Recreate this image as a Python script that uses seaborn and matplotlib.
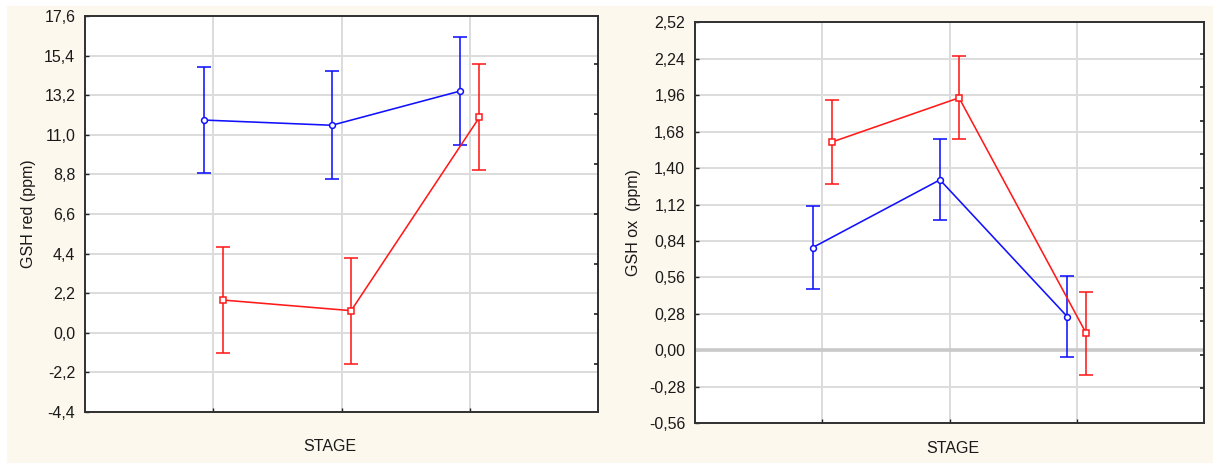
import numpy as np
import matplotlib
matplotlib.use("Agg")
import matplotlib.pyplot as plt
from matplotlib.patches import Rectangle
from matplotlib.ticker import FuncFormatter
import seaborn as sns

# Stages (x positions 1..3) and group means with error half-widths
stages = [1, 2, 3]

red_blue_mean = [11.82, 11.53, 13.43]
red_blue_err = [2.95, 3.0, 3.0]
red_red_mean = [1.82, 1.23, 11.97]
red_red_err = [2.95, 2.95, 2.95]

ox_blue_mean = [0.79, 1.31, 0.26]
ox_blue_err = [0.32, 0.31, 0.31]
ox_red_mean = [1.60, 1.94, 0.13]
ox_red_err = [0.32, 0.32, 0.32]

red_ticks = [-4.4, -2.2, 0.0, 2.2, 4.4, 6.6, 8.8, 11.0, 13.2, 15.4, 17.6]
ox_ticks = [-0.56, -0.28, 0.00, 0.28, 0.56, 0.84, 1.12, 1.40, 1.68, 1.96, 2.24, 2.52]

sns.set_style("white")
plt.rcParams["font.family"] = ["Liberation Sans", "DejaVu Sans"]
FS = 11.5

W, H = 1213, 463
fig = plt.figure(figsize=(W / 100, H / 100), dpi=100)
fig.patch.set_facecolor("white")
fig.patches.append(Rectangle((7 / W, 0), 1, 1 - 6 / H, transform=fig.transFigure,
                             facecolor="#fdf8ee", edgecolor="none", zorder=-10))

BLUE = "#1010ff"
RED = "#ff1a1a"
TXT = "#1a1a1a"
DODGE = 0.075


def panel(rect, ticks, fmt, ylabel, blue_m, blue_e, red_m, red_e, n_right, r0, rstep,
          zero_line=False, xlabel_xy=(0.5, -0.05)):
    ax = fig.add_axes(rect)
    ax.set_facecolor("white")
    xb = np.array(stages) - DODGE
    xr = np.array(stages) + DODGE
    for x, m, e, c, mk, ms in ((xb, blue_m, blue_e, BLUE, "o", 4.2),
                               (xr, red_m, red_e, RED, "s", 4.6)):
        sns.lineplot(x=x, y=m, ax=ax, color=c, lw=1.15, marker=mk, markersize=ms,
                     markerfacecolor="white", markeredgecolor=c, markeredgewidth=1.1,
                     zorder=4, legend=False)
        ax.errorbar(x, m, yerr=e, fmt="none", ecolor=c, elinewidth=1.15,
                    capsize=4.7, capthick=1.15, zorder=3)
    ax.set_xlim(0, 4)
    ax.set_ylim(ticks[0], ticks[-1])
    ax.set_yticks(ticks)
    ax.yaxis.set_major_formatter(FuncFormatter(fmt))
    ax.set_xticks(stages)
    ax.set_xticklabels([])
    ax.grid(True, color="#dcdcdc", lw=1.4, zorder=0)
    ax.set_axisbelow(True)
    if zero_line:
        ax.axhline(0, color="#c9c9c9", lw=2.6, zorder=1)
    for s in ax.spines.values():
        s.set_color("#303030")
        s.set_linewidth(1.4)
    ax.tick_params(axis="both", direction="in", length=3, width=1, color="#202020",
                   labelsize=FS, labelcolor=TXT, pad=7)
    ax.tick_params(axis="y", left=True)
    ax.tick_params(axis="x", bottom=True)
    ax.set_ylabel(ylabel, fontsize=FS, color=TXT, labelpad=6)
    ax.set_xlabel("STAGE", fontsize=FS, color=TXT)
    ax.xaxis.set_label_coords(*xlabel_xy)

    tw = ax.twinx()
    tw.set_ylim(0, 1)
    tw.set_yticks(r0 + rstep * np.arange(n_right))
    tw.set_yticklabels([])
    tw.tick_params(axis="y", direction="in", length=3, width=1.2, color="#202020")
    for s in tw.spines.values():
        s.set_visible(False)
    return ax


panel([85 / W, (H - 412) / H, 513 / W, 396 / H], red_ticks,
      lambda v, _: f"{v:.1f}".replace(".", ","), "GSH red (ppm)",
      red_blue_mean, red_blue_err, red_red_mean, red_red_err,
      7, 0.121, 0.1263, xlabel_xy=(0.478, -0.068))

panel([695 / W, (H - 423.3) / H, 509 / W, 401 / H], ox_ticks,
      lambda v, _: f"{v:.2f}".replace(".", ","), "GSH ox  (ppm)",
      ox_blue_mean, ox_blue_err, ox_red_mean, ox_red_err,
      11, 0.088, 0.0833, zero_line=True, xlabel_xy=(0.506, -0.043))

fig.savefig("out.png", dpi=100, facecolor=fig.get_facecolor())
